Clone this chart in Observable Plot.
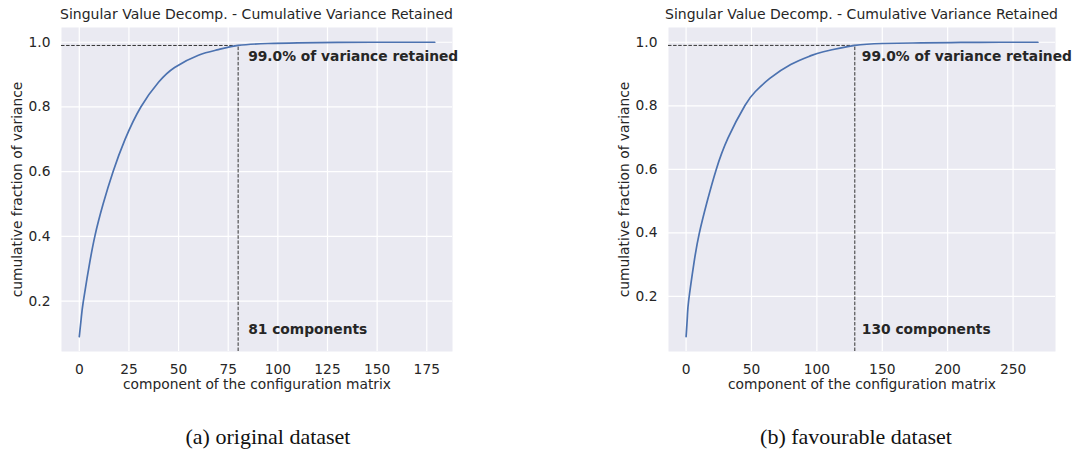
<!DOCTYPE html>
<html>
<head>
<meta charset="utf-8">
<script src="https://cdn.jsdelivr.net/npm/d3@7"></script>
<script src="https://cdn.jsdelivr.net/npm/@observablehq/plot@0.6"></script>
<style>
  body { margin: 0; background: #fff; }
  #fig { position: relative; width: 1074px; height: 455px; overflow: hidden; font-family: "DejaVu Sans", sans-serif; }
  .panel { position: absolute; top: 0; }
  .title { position: absolute; font-size: 14px; line-height: 1; color: #262626; white-space: nowrap; transform: translateX(-50%); }
  .caption { position: absolute; font-family: "Liberation Serif", serif; font-size: 22px; line-height: 1; color: #111; white-space: nowrap; transform: translateX(-50%); }
</style>
</head>
<body>
<div id="fig"></div>
<script>
// Cumulative fraction of variance retained by the SVD components
const originalComponents = [0, 1, 2, 5, 8, 12, 17, 23, 31, 40, 48, 60, 70, 80, 95, 110, 130, 155, 179];
const originalFraction   = [0.090, 0.148, 0.198, 0.310, 0.405, 0.500, 0.600, 0.699, 0.800, 0.877, 0.922, 0.960, 0.977, 0.990, 0.996, 0.998, 0.9993, 1.0, 1.0];

const favourableComponents = [0, 1, 2, 6, 10, 16, 23, 32, 45, 53, 64, 80, 95, 105, 129, 150, 180, 210, 240, 269];
const favourableFraction   = [0.073, 0.138, 0.188, 0.305, 0.397, 0.497, 0.599, 0.698, 0.801, 0.845, 0.886, 0.930, 0.957, 0.970, 0.990, 0.996, 0.998, 0.9993, 1.0, 1.0];

// variance threshold and the component index at which it is reached
const retainedThreshold = 0.99;
const originalCutoff = 80;
const favourableCutoff = 129;

const originalXTicks = [0, 25, 50, 75, 100, 125, 150, 175];
const favourableXTicks = [0, 50, 100, 150, 200, 250];
const yTicks = [0.2, 0.4, 0.6, 0.8, 1.0];

const titleText = "Singular Value Decomp. - Cumulative Variance Retained";
const xLabel = "component of the configuration matrix";
const yLabel = "cumulative fraction of variance";
const captions = ["(a) original dataset", "(b) favourable dataset"];

// padded extent, like matplotlib's default 5% axis margins
function padded(values) {
  const [lo, hi] = d3.extent(values);
  const pad = (hi - lo) * 0.05;
  return [lo - pad, hi + pad];
}

function panel({comps, fracs, cutoff, xTicks, width, marginLeft, marginRight, labelDx}) {
  const rows = comps.map((c, i) => ({c, f: fracs[i]}));
  const xDom = padded(comps);
  const yDom = padded(fracs);
  const dash = {stroke: "#333", strokeWidth: 1, strokeDasharray: "3.5,1.6"};
  return Plot.plot({
    width,
    height: 400,
    marginLeft,
    marginRight,
    marginTop: 27,
    marginBottom: 49,
    style: {fontFamily: "DejaVu Sans, sans-serif", fontSize: "13.8px", color: "#262626", background: "transparent", overflow: "visible"},
    x: {domain: xDom},
    y: {domain: yDom},
    marks: [
      Plot.frame({fill: "#eaeaf2", stroke: null}),
      Plot.gridX(xTicks, {stroke: "#fff", strokeOpacity: 1, strokeWidth: 1.2}),
      Plot.gridY(yTicks, {stroke: "#fff", strokeOpacity: 1, strokeWidth: 1.2}),
      Plot.axisX(xTicks, {tickSize: 0, tickPadding: 13, fontSize: 13.8, label: xLabel, labelAnchor: "center", labelArrow: "none", labelOffset: 37}),
      Plot.axisY(yTicks, {tickSize: 0, tickPadding: 11, fontSize: 13.8, tickFormat: d => d.toFixed(1), label: yLabel, labelAnchor: "center", labelArrow: "none", labelOffset: 49}),
      Plot.ruleY([retainedThreshold], {x1: xDom[0], x2: cutoff, ...dash}),
      Plot.ruleX([cutoff], {y1: yDom[0], y2: retainedThreshold, ...dash}),
      Plot.line(rows, {x: "c", y: "f", stroke: "#4c72b0", strokeWidth: 1.7, curve: "natural"}),
      Plot.text([`${(retainedThreshold * 100).toFixed(1)}% of variance retained`], {
        x: cutoff, y: retainedThreshold, dx: labelDx, dy: 16, textAnchor: "start", lineAnchor: "bottom",
        fontWeight: "bold", fontSize: 13.8, fill: "#262626"
      }),
      Plot.text([`${cutoff + 1} components`], {
        x: cutoff, frameAnchor: "bottom", dx: labelDx, dy: -18, textAnchor: "start", lineAnchor: "bottom",
        fontWeight: "bold", fontSize: 13.8, fill: "#262626"
      })
    ]
  });
}

const fig = document.getElementById("fig");

const specs = [
  {left: 0, comps: originalComponents, fracs: originalFraction, cutoff: originalCutoff, xTicks: originalXTicks,
   width: 470, marginLeft: 61, marginRight: 18, labelDx: 10, titleX: 256.5, captionX: 268},
  {left: 600, comps: favourableComponents, fracs: favourableFraction, cutoff: favourableCutoff, xTicks: favourableXTicks,
   width: 474, marginLeft: 68, marginRight: 19, labelDx: 7, titleX: 861.5, captionX: 856}
];

specs.forEach((s, i) => {
  const svg = panel(s);
  svg.classList.add("panel");
  svg.style.left = s.left + "px";
  fig.appendChild(svg);

  const t = document.createElement("div");
  t.className = "title";
  t.textContent = titleText;
  t.style.left = s.titleX + "px";
  t.style.top = "7.2px";
  fig.appendChild(t);

  const c = document.createElement("div");
  c.className = "caption";
  c.textContent = captions[i];
  c.style.left = s.captionX + "px";
  c.style.top = "425.6px";
  fig.appendChild(c);
});
</script>
</body>
</html>
